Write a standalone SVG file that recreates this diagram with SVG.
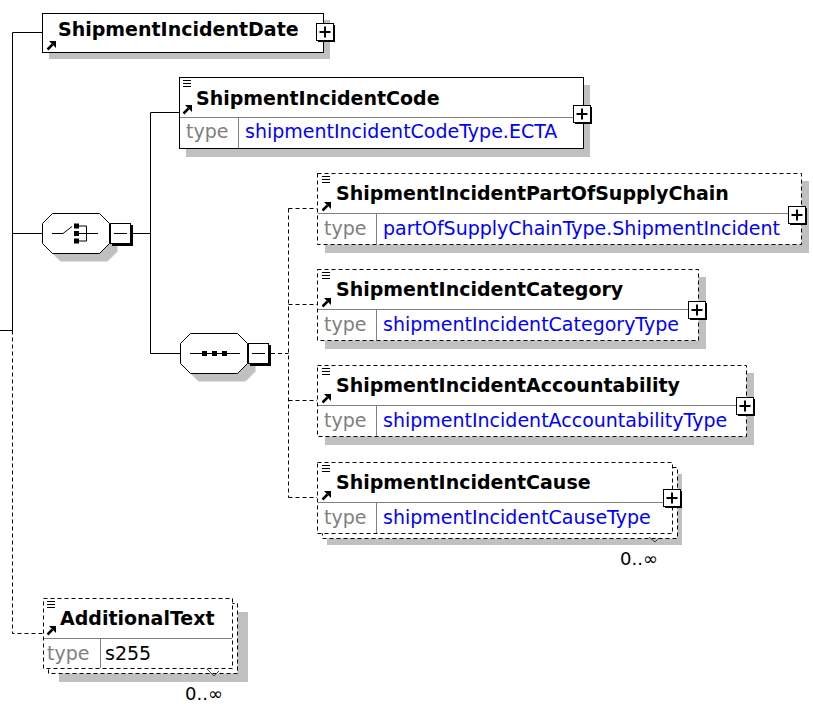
<svg xmlns="http://www.w3.org/2000/svg" width="813" height="704" viewBox="0 0 813 704">
<style>
.sh{fill:#c0c0c0}
.bx{fill:#fff;stroke:#000;stroke-width:1}
.dbx{fill:#fff;stroke:#000;stroke-width:1;stroke-dasharray:4 3}
.sep{stroke:#808080;stroke-width:1;fill:none}
.ln{stroke:#000;stroke-width:1;fill:none}
.dl{stroke:#000;stroke-width:1;fill:none;stroke-dasharray:4 3}
.oct{fill:#fff;stroke:#000;stroke-width:1}
.tk{stroke:#404040;stroke-width:1;fill:none}
text{font-family:"DejaVu Sans",sans-serif;font-size:19px}
.nm{font-weight:bold;fill:#000}
.ty{fill:#808080}
.vl{fill:#0000ff}
.bk{fill:#000}
.oc{font-size:18px;fill:#000}
</style>
<defs>
<g id="plus"><rect x="2" y="2" width="17" height="17" fill="#000"/><rect x="0.5" y="0.5" width="17" height="17" fill="#fff" stroke="#000"/><path d="M3.5 9 H14.5 M9 3.5 V14.5" stroke="#000" stroke-width="2"/></g>
<g id="minus"><rect x="2" y="2" width="21" height="21" fill="#000"/><rect x="0.5" y="0.5" width="20" height="20" fill="#fff" stroke="#000"/><path d="M4 10.5 H17" stroke="#000"/></g>
<g id="arr"><path d="M0.5 7.5 L5.5 2.5" stroke="#000" stroke-width="2.5"/><polygon points="9,-1 9,6 2,-1" fill="#000"/></g>
<g id="eq"><path d="M0 0.5 H8 M0 3.5 H8 M0 6.5 H8" stroke="#000"/></g>
</defs>

<g id="connectors">
<path class="ln" d="M12.5 32.5 V330.5 M0 330.5 H12.5 M12.5 32.5 H42 M12.5 233.5 H42 M133 233.5 H150.5 M150.5 112.5 V353.5 M150.5 112.5 H179 M150.5 353.5 H180"/>
<path class="dl" d="M12.5 330.5 V633.5 H43"/>
<path class="dl" d="M271 353.5 H288.5 M288.5 208.5 V497.5 M288.5 208.5 H317 M288.5 304.5 H317 M288.5 400.5 H317 M288.5 497.5 H317"/>
</g>

<g id="n-date">
<rect class="sh" x="49" y="20" width="281" height="39"/>
<rect class="bx" x="42.5" y="13.5" width="281" height="39"/>
<use href="#arr" x="47" y="42"/>
<text class="nm" x="58" y="36">ShipmentIncidentDate</text>
<use href="#plus" x="316" y="23"/>
</g>

<g id="n-code">
<rect class="sh" x="186" y="85" width="404" height="72"/>
<rect class="bx" x="179.5" y="77.5" width="404" height="71"/>
<path class="sep" d="M180 117.5 H583 M238.5 118 V148"/>
<use href="#eq" x="183" y="80"/>
<use href="#arr" x="183" y="106"/>
<text class="nm" x="196" y="105">ShipmentIncidentCode</text>
<text class="ty" x="186" y="138">type</text>
<text class="vl" x="245" y="138">shipmentIncidentCodeType.ECTA</text>
<use href="#plus" x="573" y="105"/>
</g>

<g id="n-choice">
<polygon class="sh" points="60.5,221.5 107.5,221.5 117.5,231.5 117.5,251.5 107.5,261.5 60.5,261.5 50.5,251.5 50.5,231.5"/>
<polygon class="oct" points="52.5,213.5 99.5,213.5 109.5,223.5 109.5,243.5 99.5,253.5 52.5,253.5 42.5,243.5 42.5,223.5"/>
<path class="ln" d="M52 233.5 H63 L72 226.5 M79 226 H86.5 V241 H79 M79 233.5 H98"/>
<rect class="bk" x="74" y="223.5" width="5" height="5"/>
<rect class="bk" x="74" y="231" width="5" height="5"/>
<rect class="bk" x="74" y="238.5" width="5" height="5"/>
<use href="#minus" x="110" y="223"/>
</g>

<g id="n-seq">
<polygon class="sh" points="198.5,341.5 245.5,341.5 255.5,351.5 255.5,371.5 245.5,381.5 198.5,381.5 188.5,371.5 188.5,351.5"/>
<polygon class="oct" points="190.5,333.5 237.5,333.5 247.5,343.5 247.5,363.5 237.5,373.5 190.5,373.5 180.5,363.5 180.5,343.5"/>
<path class="ln" d="M190 353.5 H240"/>
<rect class="bk" x="202" y="351" width="5" height="5"/>
<rect class="bk" x="212" y="351" width="5" height="5"/>
<rect class="bk" x="222" y="351" width="5" height="5"/>
<use href="#minus" x="248" y="343"/>
</g>

<g id="n-partof">
<rect class="sh" x="325" y="181" width="484" height="72"/>
<rect class="dbx" x="317.5" y="173.5" width="484" height="71"/>
<path class="sep" d="M318 213.5 H801 M376.5 214 V244"/>
<use href="#eq" x="322" y="176"/>
<use href="#arr" x="322" y="203"/>
<text class="nm" x="336" y="200">ShipmentIncidentPartOfSupplyChain</text>
<text class="ty" x="324" y="235">type</text>
<text class="vl" x="383" y="235">partOfSupplyChainType.ShipmentIncident</text>
<use href="#plus" x="788" y="206"/>
</g>

<g id="n-category">
<rect class="sh" x="325" y="277" width="381" height="72"/>
<rect class="dbx" x="317.5" y="269.5" width="381" height="71"/>
<path class="sep" d="M318 309.5 H698 M376.5 310 V340"/>
<use href="#eq" x="322" y="272"/>
<use href="#arr" x="322" y="299"/>
<text class="nm" x="336" y="296">ShipmentIncidentCategory</text>
<text class="ty" x="324" y="331">type</text>
<text class="vl" x="383" y="331">shipmentIncidentCategoryType</text>
<use href="#plus" x="688" y="301"/>
</g>

<g id="n-accountability">
<rect class="sh" x="325" y="373" width="429" height="72"/>
<rect class="dbx" x="317.5" y="365.5" width="429" height="71"/>
<path class="sep" d="M318 405.5 H746 M376.5 406 V436"/>
<use href="#eq" x="322" y="368"/>
<use href="#arr" x="322" y="395"/>
<text class="nm" x="336" y="392">ShipmentIncidentAccountability</text>
<text class="ty" x="324" y="427">type</text>
<text class="vl" x="383" y="427">shipmentIncidentAccountabilityType</text>
<use href="#plus" x="736" y="397"/>
</g>

<g id="n-cause">
<rect class="sh" x="327" y="474" width="355" height="71"/>
<rect class="dbx" x="322.5" y="467.5" width="355" height="71"/>
<rect class="dbx" x="317.5" y="462.5" width="355" height="71"/>
<path class="sep" d="M318 502.5 H672 M376.5 503 V533"/>
<use href="#eq" x="322" y="465"/>
<use href="#arr" x="322" y="492"/>
<text class="nm" x="336" y="489">ShipmentIncidentCause</text>
<text class="ty" x="324" y="524">type</text>
<text class="vl" x="383" y="524">shipmentIncidentCauseType</text>
<use href="#plus" x="663" y="489"/>
<path class="tk" d="M649 537 L655 542 L659 538"/>
<text class="oc" x="620" y="565">0..∞</text>
</g>

<g id="n-additional">
<rect class="sh" x="59" y="612" width="189" height="70"/>
<rect class="dbx" x="48.5" y="603.5" width="189" height="70"/>
<rect class="dbx" x="43.5" y="598.5" width="189" height="70"/>
<path class="sep" d="M44 638.5 H232 M100.5 639 V668"/>
<use href="#eq" x="47" y="601"/>
<use href="#arr" x="47" y="627"/>
<text class="nm" x="60" y="625">AdditionalText</text>
<text class="ty" x="47" y="660">type</text>
<text x="105" y="660" fill="#000">s255</text>
<path class="tk" d="M207 669 L214 676 L219 671"/>
<text class="oc" x="185" y="700">0..∞</text>
</g>
</svg>
